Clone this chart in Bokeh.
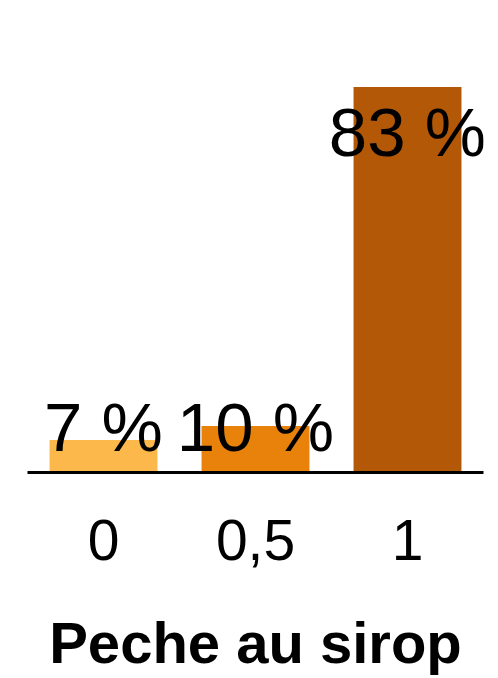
from bokeh.plotting import figure
from bokeh.models import ColumnDataSource, Range1d, FactorRange
from bokeh.core.properties import value
from bokeh.embed import file_html
from bokeh.resources import INLINE

categories = ["0", "0,5", "1"]
percents = [7, 10, 83]
labels = ["7 %", "10 %", "83 %"]
colors = ["#FCB84B", "#E8820A", "#B35806"]
title = "Peche au sirop"

# label positions (data units): inside top of bar, clamped near the axis
label_y = [max(v - 9.8, 9.7) for v in percents]

src = ColumnDataSource(dict(cat=categories, val=percents, lab=labels,
                            col=colors, ly=label_y))

p = figure(x_range=FactorRange(*categories, range_padding=0),
           y_range=Range1d(0, 90),
           width=490, height=678, output_backend="svg", toolbar_location=None,
           min_border_left=27, min_border_right=7, min_border_top=54,
           min_border_bottom=206)
p.vbar(x="cat", top="val", width=0.71, color="col", source=src, line_color=None)
p.text(x="cat", y="ly", text="lab", source=src, text_align="center",
       text_baseline="alphabetic", text_font=value("Liberation Sans"),
       text_font_size="69px", text_color="black")

p.outline_line_color = None
p.grid.visible = False
p.yaxis.visible = False
ax = p.xaxis[0]
ax.axis_line_color = "black"
ax.axis_line_width = 3
ax.major_tick_line_color = None
ax.minor_tick_line_color = None
ax.major_tick_out = 0
ax.major_tick_in = 0
ax.major_label_standoff = 47
ax.major_label_text_font = "Liberation Sans"
ax.major_label_text_font_size = "57px"
ax.major_label_text_color = "black"
ax.axis_label = title
ax.axis_label_text_font = "Liberation Sans"
ax.axis_label_text_font_size = "58px"
ax.axis_label_text_font_style = "bold"
ax.axis_label_text_color = "black"
ax.axis_label_standoff = 47

open("out.html", "w").write(file_html(p, INLINE))
